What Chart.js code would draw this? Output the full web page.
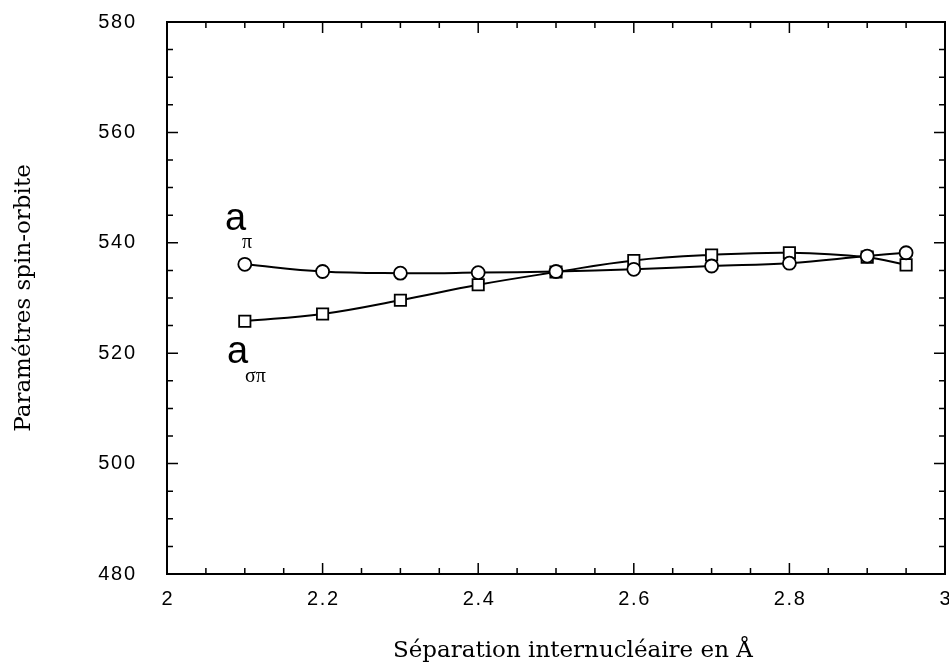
<!DOCTYPE html>
<html>
<head>
<meta charset="utf-8">
<script src="https://cdn.jsdelivr.net/npm/chart.js@4"></script>
<style>
  html, body { margin: 0; padding: 0; background: #fff; }
</style>
</head>
<body>
<canvas id="chart" width="949" height="670"></canvas>
<script>
// séparation internucléaire (Å)
const separation = [2.1, 2.2, 2.3, 2.4, 2.5, 2.6, 2.7, 2.8, 2.9, 2.95];
// a_pi (cercles)
const aPi = [536.1, 534.8, 534.5, 534.6, 534.8, 535.2, 535.8, 536.3, 537.6, 538.2];
// a_sigma_pi (carrés)
const aSigmaPi = [525.8, 527.1, 529.6, 532.4, 534.7, 536.8, 537.8, 538.2, 537.4, 536.0];

const xTickValues = [2, 2.2, 2.4, 2.6, 2.8, 3];
const yTickValues = [480, 500, 520, 540, 560, 580];

// chiffres espacés comme sur la figure
function spaced(v) {
    return String(Number(v.toFixed(1))).split('').join('\u200A');
}

// cadre + petites graduations vers l'intérieur sur les 4 côtés
const framePlugin = {
    id: 'frame',
    beforeDatasetsDraw(chart) {
        const ctx = chart.ctx;
        const a = chart.chartArea;
        const x = chart.scales.x, y = chart.scales.y;
        ctx.save();
        ctx.strokeStyle = '#000';
        ctx.lineWidth = 2;
        ctx.strokeRect(a.left, a.top, a.right - a.left, a.bottom - a.top);
        ctx.lineWidth = 1.5;
        ctx.beginPath();
        for (let i = 0; i <= 20; i++) {
            const len = i % 4 === 0 ? 11 : 6;
            const px = x.getPixelForValue(2 + i * 0.05);
            ctx.moveTo(px, a.bottom); ctx.lineTo(px, a.bottom - len);
            ctx.moveTo(px, a.top); ctx.lineTo(px, a.top + len);
            const py = y.getPixelForValue(480 + i * 5);
            ctx.moveTo(a.left, py); ctx.lineTo(a.left + len, py);
            ctx.moveTo(a.right, py); ctx.lineTo(a.right - len, py);
        }
        ctx.stroke();
        ctx.restore();
    }
};

// étiquettes a_pi et a_sigma_pi
const labelPlugin = {
    id: 'curveLabels',
    afterDatasetsDraw(chart) {
        const ctx = chart.ctx;
        const x = chart.scales.x, y = chart.scales.y;
        const put = (txt, xv, yv, font) => {
            ctx.font = font;
            ctx.fillText(txt, x.getPixelForValue(xv), y.getPixelForValue(yv));
        };
        ctx.save();
        ctx.fillStyle = '#000';
        ctx.textAlign = 'left';
        ctx.textBaseline = 'alphabetic';
        put('a', 2.0746, 542.3, '38px "Liberation Sans"');
        put('π', 2.0964, 539.1, '20px "Liberation Serif"');
        put('a', 2.0771, 518.2, '38px "Liberation Sans"');
        put('σπ', 2.1003, 514.8, '20px "Liberation Serif"');
        ctx.restore();
    }
};

new Chart(document.getElementById('chart'), {
    type: 'line',
    data: {
        datasets: [
            {
                label: 'a_pi',
                data: separation.map((s, i) => ({x: s, y: aPi[i]})),
                borderColor: '#000',
                borderWidth: 2,
                backgroundColor: '#fff',
                pointStyle: 'circle',
                pointRadius: 6.5,
                pointBorderWidth: 1.8,
                pointBackgroundColor: '#fff',
                pointBorderColor: '#000',
                tension: 0.4
            },
            {
                label: 'a_sigma_pi',
                data: separation.map((s, i) => ({x: s, y: aSigmaPi[i]})),
                borderColor: '#000',
                borderWidth: 2,
                backgroundColor: '#fff',
                pointStyle: 'rect',
                pointRadius: 8,
                pointBorderWidth: 1.8,
                pointBackgroundColor: '#fff',
                pointBorderColor: '#000',
                tension: 0.4
            }
        ]
    },
    options: {
        responsive: false,
        animation: false,
        layout: { autoPadding: false, padding: { top: 22, right: 4, left: 0, bottom: 0 } },
        plugins: {
            legend: { display: false },
            tooltip: { enabled: false }
        },
        scales: {
            x: {
                type: 'linear',
                min: 2,
                max: 3,
                afterBuildTicks: s => { s.ticks = xTickValues.map(v => ({value: v})); },
                afterFit: s => { s.height = 96; s.paddingLeft = 0; s.paddingRight = 0; },
                grid: { display: false, drawTicks: false },
                border: { display: false },
                ticks: {
                    color: '#000',
                    padding: 13,
                    maxRotation: 0,
                    font: { family: 'Liberation Sans', size: 20 },
                    callback: v => spaced(v)
                },
                title: {
                    display: true,
                    text: '\u00A0\u00A0\u00A0\u00A0\u2009Séparation internucléaire en Å',
                    color: '#000',
                    font: { family: 'DejaVu Serif', size: 23 },
                    padding: { top: 0, bottom: 5 }
                }
            },
            y: {
                min: 480,
                max: 580,
                afterBuildTicks: s => { s.ticks = yTickValues.map(v => ({value: v})); },
                afterFit: s => { s.width = 167; s.paddingTop = 0; s.paddingBottom = 0; },
                grid: { display: false, drawTicks: false },
                border: { display: false },
                ticks: {
                    color: '#000',
                    padding: 32,
                    font: { family: 'Liberation Sans', size: 20 },
                    callback: v => spaced(v)
                },
                title: {
                    display: true,
                    text: 'Paramétres spin-orbite',
                    color: '#000',
                    font: { family: 'DejaVu Serif', size: 23 },
                    padding: { top: 10, bottom: 0 }
                }
            }
        }
    },
    plugins: [framePlugin, labelPlugin]
});
</script>
</body>
</html>
